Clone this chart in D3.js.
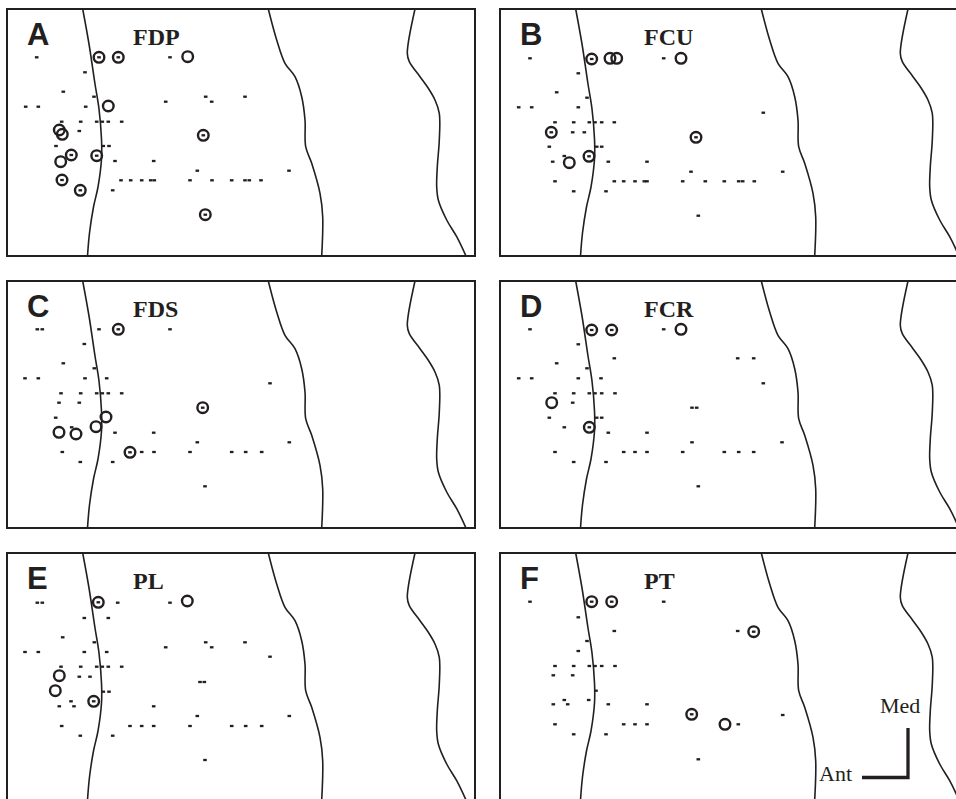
<!DOCTYPE html>
<html>
<head>
<meta charset="utf-8">
<script src="https://cdnjs.cloudflare.com/ajax/libs/d3/7.8.5/d3.min.js"></script>
<style>
  html, body { margin: 0; padding: 0; background: #fff; }
  svg { display: block; }
</style>
</head>
<body>
<div id="chart"></div>
<script>
// boundary traces, shared by every panel (map units)
var curveLeft = [[75.7,0],[82,35],[88,75],[92,100],[94.5,130],[94.5,150],[91,178],[86.5,198],[82.5,224],[80.5,247]];
var curveMid = [[261.3,0],[269.7,31],[278,54.3],[288,67.7],[294.7,87.7],[298,111],[298.7,137.7],[304.7,154.3],[313,184.3],[315.7,207.7],[314.7,247]];
var curveRight = [[408,0],[400.3,44.3],[402.3,52.7],[413,67.7],[421.3,79.3],[428,91],[432.3,104.3],[432.3,131],[430.3,157.7],[429.7,177.7],[431.3,191],[439.7,211],[449.7,227.7],[459,247]];

var panelLetters = ["A", "B", "C", "D", "E", "F"];
var muscles = ["FDP", "FCU", "FDS", "FCR", "PL", "PT"];

// non responsive sites [x, y]
var dashesA = [[29.7,48.3],[163,48.3],[78,63.3],[56.3,82.7],[87,87.7],[198.7,87.7],[238,87.7],[158.7,92.7],[204.7,92.7],[18.7,97.7],[31.3,97.7],[78.7,97.7],[54.7,112.7],[73.7,112.7],[89.7,112.7],[95.3,112.7],[101.3,112.7],[114.7,112.7],[72.3,122],[49,137],[96.3,137],[102,137],[108,152],[146.7,152],[190.3,161.7],[282,161.7],[114,171.3],[123.7,171.3],[134.7,171.3],[143.7,171.3],[147.3,171.3],[183,171.3],[205,171.3],[224.7,171.3],[238,171.3],[242.3,171.3],[254,171.3],[105.7,181.3]];
var dashesB = [[30,49.3],[163.7,49.3],[78.3,64.3],[56.7,83.3],[87,88.7],[18.7,98.3],[31.7,98.3],[78.3,98.3],[263.3,103.7],[55,113.3],[73.7,113.3],[89.3,113.3],[95,113.3],[101.7,113.3],[114.3,113.3],[72.7,123.3],[84.3,123.3],[49.3,137.7],[96.7,137.7],[101.7,137.7],[64.3,147],[52.7,152.7],[108.3,152.7],[147,152.7],[191,162.7],[282.7,162.7],[55,172.3],[114.3,172.3],[123.7,172.3],[135,172.3],[144.3,172.3],[147,172.3],[182.7,172.3],[205.3,172.3],[224.3,172.3],[238.7,172.3],[242.7,172.3],[254.3,172.3],[73.7,182.3],[106,182.3],[198.3,206.7]];
var dashesC = [[30.3,48.3],[35.3,48.3],[92,48.3],[163,48.3],[77.3,63],[56.3,82.3],[87.3,87.3],[18,97.3],[31.3,97.3],[78,97.3],[99.7,97.3],[263,102.3],[54,112.3],[73.7,112.3],[89.7,112.3],[95.3,112.3],[101.3,112.3],[114.7,112.3],[52,121.7],[72.3,121.7],[48.7,136.7],[64.7,146.3],[108,151.7],[146.7,151.7],[190.3,161.3],[282.3,161.3],[55.3,171],[134.7,171],[147,171],[183,171],[224.7,171],[238.7,171],[254.7,171],[73.3,181],[105.7,181],[198,205.3]];
var dashesD = [[30,48.3],[163.7,48.3],[78.3,63.3],[114.3,77.3],[237.7,77.3],[253.7,77.3],[56.7,82.3],[87,87.3],[18.7,97.3],[31.7,97.3],[78.3,97.3],[101,97.3],[263.3,102.3],[55,112.3],[73.7,112.3],[89.3,112.3],[95,112.3],[101.7,112.3],[115,112.3],[72.7,121.7],[192,126.7],[196.7,126.7],[49.3,136.7],[96.7,136.7],[101.7,136.7],[64.3,146.3],[108.3,151.7],[147,151.7],[192,161.3],[282,161.3],[55,171],[123.7,171],[135,171],[147,171],[182.7,171],[224.3,171],[238.7,171],[253.7,171],[73.7,181],[106,181],[198.3,205.3]];
var dashesE = [[30.3,49.7],[35.3,49.7],[110.7,49.7],[163,49.7],[77.3,65],[101.3,65],[55.7,84.3],[87.3,89.3],[198.7,89.3],[238,89.3],[158.7,94.3],[204.7,94.3],[18,99],[31.3,99],[77.3,99],[99.7,99],[263,103.7],[54,113.7],[73.7,113.7],[89.7,113.7],[95.3,113.7],[101.3,113.7],[114.7,113.7],[72.3,123.7],[83,123.7],[193,129],[197.3,129],[96.3,138.7],[102,138.7],[64,148.3],[52.3,153.3],[67,153.3],[146.7,153.3],[190.3,163],[282.3,163],[54.7,173],[123,173],[134.7,173],[146.7,173],[183,173],[224.7,173],[238.7,173],[254.7,173],[73.3,182.7],[105.7,182.7],[198,207]];
var dashesF = [[30,48.7],[163.7,48.7],[78.3,64.3],[114.3,78],[237.7,78],[87,88],[78.3,98],[55,113],[73.7,113],[89.3,113],[95,113],[101.7,113],[115,113],[53.3,122.3],[72.7,122.3],[96,137.7],[53.3,151.3],[64.3,147],[67.7,151.3],[88.7,147],[108.3,151.3],[147,151.3],[282.7,162],[55,171.3],[123.7,171.3],[135,171.3],[147,171.3],[238.3,171.3],[73.7,181.3],[106,181.3],[198.3,206.3]];

// responsive sites [x, y, centre mark]
var circlesA = [[92,48.3,1],[111.3,48.3,1],[180.7,47.7,0],[101.3,97,0],[52.3,121,0],[55.3,125.3,0],[196.3,126.3,1],[64.3,146,1],[89.7,146.7,1],[53.7,152.7,0],[55,171,1],[73.3,181.3,1],[198.3,205.7,1]];
var circlesB = [[91.7,50,1],[110,49.3,0],[116.7,49.3,0],[181,49.3,0],[51.3,123.3,1],[196,128.3,1],[89,147.3,1],[69.3,153.7,0]];
var circlesC = [[111.3,48.3,1],[195.7,126.7,1],[99,136,0],[89,145.7,0],[52,151.3,0],[69,153,0],[123,171.3,1]];
var circlesD = [[91.7,49,1],[111.7,49,1],[181,48.3,0],[51.7,121.7,0],[89.3,146.3,1]];
var circlesE = [[91.3,49.3,1],[180.3,48,0],[52.3,122.7,0],[48.3,137.7,0],[86.7,148.3,1]];
var circlesF = [[91.7,48.7,1],[111.7,48.7,1],[253.7,78.7,1],[191.7,161.3,1],[225,171.3,0]];

var allDashes = [dashesA, dashesB, dashesC, dashesD, dashesE, dashesF];
var allCircles = [circlesA, circlesB, circlesC, circlesD, circlesE, circlesF];

var width = 956, height = 799;
var panelW = 468, panelH = 247;
var colX = [7, 500], rowY = [9, 281, 553];
var ink = "#231f20";

var svg = d3.select("#chart").append("svg")
    .attr("width", width)
    .attr("height", height);

svg.append("rect").attr("width", width).attr("height", height).attr("fill", "#fff");

var x = d3.scaleLinear().domain([0, 468]).range([0, panelW]);
var y = d3.scaleLinear().domain([0, 247]).range([0, panelH]);

var line = d3.line()
    .x(function(d) { return x(d[0]); })
    .y(function(d) { return y(d[1]); })
    .curve(d3.curveCatmullRom.alpha(0.5));

function addDashes(sel, data, cls) {
  sel.selectAll("rect." + cls)
      .data(data)
    .enter().append("rect")
      .attr("class", cls)
      .attr("x", function(d) { return x(d[0]) - 1.8; })
      .attr("y", function(d) { return y(d[1]) - 1.15; })
      .attr("width", 3.6)
      .attr("height", 2.3)
      .attr("fill", ink);
}

panelLetters.forEach(function(letter, i) {
  var col = i % 2, row = Math.floor(i / 2);
  var g = svg.append("g")
      .attr("transform", "translate(" + colX[col] + "," + rowY[row] + ")");

  g.append("clipPath").attr("id", "clip" + i)
    .append("rect").attr("width", panelW).attr("height", panelH);

  var inner = g.append("g").attr("clip-path", "url(#clip" + i + ")");

  [curveLeft, curveMid, curveRight].forEach(function(c) {
    inner.append("path")
      .attr("d", line(c))
      .attr("fill", "none")
      .attr("stroke", ink)
      .attr("stroke-width", 1.6);
  });

  addDashes(inner, allDashes[i], "site");

  inner.selectAll("circle.resp")
      .data(allCircles[i])
    .enter().append("circle")
      .attr("class", "resp")
      .attr("cx", function(d) { return x(d[0]); })
      .attr("cy", function(d) { return y(d[1]); })
      .attr("r", 5.3)
      .attr("fill", "none")
      .attr("stroke", ink)
      .attr("stroke-width", 2.4);

  addDashes(inner, allCircles[i].filter(function(d) { return d[2]; }), "centre");

  // frame
  g.append("rect")
    .attr("width", panelW)
    .attr("height", panelH)
    .attr("fill", "none")
    .attr("stroke", ink)
    .attr("stroke-width", 2);

  g.append("text")
    .attr("x", 20)
    .attr("y", 36)
    .attr("font-family", "'Liberation Sans', Arial, sans-serif")
    .attr("font-weight", "bold")
    .attr("font-size", 31)
    .attr("fill", ink)
    .text(letter);

  g.append("text")
    .attr("x", col == 0 ? 126 : 144)
    .attr("y", 36)
    .attr("font-family", "'Liberation Serif', 'Times New Roman', serif")
    .attr("font-weight", "bold")
    .attr("font-size", 24)
    .attr("fill", ink)
    .text(muscles[i]);

  // orientation key in the last panel
  if (i == 5) {
    g.append("path")
      .attr("d", "M" + 362 + "," + 224.5 + "H" + 408 + "V" + 175)
      .attr("fill", "none")
      .attr("stroke", ink)
      .attr("stroke-width", 3.3);
    g.append("text")
      .attr("x", 380).attr("y", 160)
      .attr("font-family", "'Liberation Serif', 'Times New Roman', serif")
      .attr("font-size", 22)
      .attr("fill", ink)
      .text("Med");
    g.append("text")
      .attr("x", 319).attr("y", 228)
      .attr("font-family", "'Liberation Serif', 'Times New Roman', serif")
      .attr("font-size", 22)
      .attr("fill", ink)
      .text("Ant");
  }
});
</script>
</body>
</html>
